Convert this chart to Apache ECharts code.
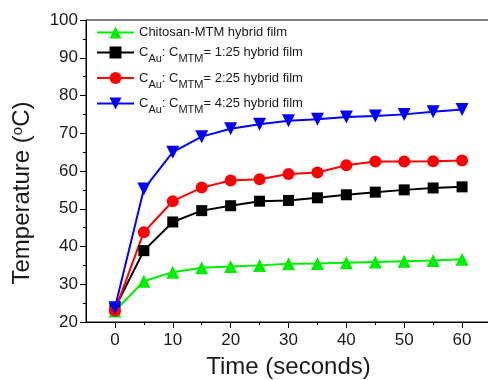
<!DOCTYPE html>
<html>
<head>
<meta charset="utf-8">
<script src="https://cdn.jsdelivr.net/npm/echarts@6/dist/echarts.min.js"></script>
<style>
  html, body { margin: 0; padding: 0; background: #fff; }
  #chart { width: 488px; height: 380px; }
</style>
</head>
<body>
<div id="chart"></div>
<script>
// 数据
var times = [0, 5, 10, 15, 20, 25, 30, 35, 40, 45, 50, 55, 60];
var chitosan = [22.9, 30.8, 33.2, 34.4, 34.7, 35.0, 35.4, 35.5, 35.7, 35.9, 36.1, 36.3, 36.6];
var ratio125 = [23.7, 38.9, 46.5, 49.5, 50.8, 52.0, 52.2, 52.9, 53.7, 54.4, 55.0, 55.5, 55.8];
var ratio225 = [23.0, 43.8, 52.0, 55.6, 57.5, 57.8, 59.2, 59.6, 61.5, 62.5, 62.5, 62.6, 62.8];
var ratio425 = [23.8, 55.2, 65.0, 69.1, 71.2, 72.4, 73.3, 73.7, 74.3, 74.6, 75.0, 75.7, 76.3];
var xMajorTicks = [0, 10, 20, 30, 40, 50, 60];
var xMinorTicks = [5, 15, 25, 35, 45, 55];

var names = [
    'Chitosan-MTM hybrid film',
    'r125',
    'r225',
    'r425'
];
var legendText = {
    'Chitosan-MTM hybrid film': '{p|Chitosan-MTM hybrid film}',
    'r125': '{n|C}{sub|Au}{n|: C}{sub|MTM}{n|= 1:25 hybrid film}',
    'r225': '{n|C}{sub|Au}{n|: C}{sub|MTM}{n|= 2:25 hybrid film}',
    'r425': '{n|C}{sub|Au}{n|: C}{sub|MTM}{n|= 4:25 hybrid film}'
};

function pairs(vals) {
    return times.map(function (t, i) { return [t, vals[i]]; });
}

var font = 'Liberation Sans';
var ink = '#1a1a1a';

var myChart = echarts.init(document.getElementById('chart'));

var option = {
    animation: false,
    backgroundColor: '#fff',
    textStyle: { fontFamily: font, color: ink },
    grid: {
        left: 86,
        top: 20,
        right: -3,
        bottom: 58,
        outerBoundsMode: 'none',
        containLabel: false,
        show: true,
        borderColor: '#000',
        borderWidth: 1
    },
    legend: {
        orient: 'vertical',
        left: 91,
        top: 21,
        itemWidth: 37,
        itemHeight: 15,
        itemGap: 7,
        data: names,
        formatter: function (name) { return legendText[name]; },
        textStyle: {
            color: ink,
            fontFamily: font,
            rich: {
                p: { fontSize: 13, lineHeight: 15, fontFamily: font, color: ink },
                n: { fontSize: 13, lineHeight: 24, fontFamily: font, color: ink },
                sub: { fontSize: 11, lineHeight: 11, verticalAlign: 'bottom', fontFamily: font, color: ink }
            }
        }
    },
    xAxis: [{
        type: 'value',
        min: -5,
        max: 65,
        name: 'Time (seconds)',
        nameLocation: 'middle',
        nameGap: 33,
        nameTextStyle: { fontSize: 24, color: ink, fontFamily: font },
        splitLine: { show: false },
        axisLine: { onZero: false, lineStyle: { color: '#000', width: 1 } },
        axisTick: { length: 6, customValues: xMajorTicks, lineStyle: { color: '#000' } },
        axisLabel: { customValues: xMajorTicks, fontSize: 17, margin: 10, color: ink }
    }, {
        type: 'value',
        min: -5,
        max: 65,
        position: 'bottom',
        splitLine: { show: false },
        axisLine: { show: false, onZero: false },
        axisTick: { length: 3, customValues: xMinorTicks, lineStyle: { color: '#000' } },
        axisLabel: { show: false }
    }],
    yAxis: {
        type: 'value',
        min: 20,
        max: 100,
        interval: 10,
        name: 'Temperature ({sup|o}C)',
        nameLocation: 'middle',
        nameGap: 52,
        nameTextStyle: {
            fontSize: 24,
            color: ink,
            fontFamily: font,
            padding: [0, 44, 0, 0],
            rich: {
                sup: { fontSize: 15, lineHeight: 15, verticalAlign: 'top', color: ink, fontFamily: font }
            }
        },
        splitLine: { show: false },
        axisLine: { show: true, onZero: false, lineStyle: { color: '#000', width: 1 } },
        axisTick: { show: true, length: 6, lineStyle: { color: '#000' } },
        minorTick: { show: true, splitNumber: 2, length: 3, lineStyle: { color: '#000' } },
        axisLabel: { fontSize: 17, margin: 8, color: ink }
    },
    series: [
        {
            name: names[0],
            type: 'line',
            data: pairs(chitosan),
            symbol: 'triangle',
            symbolSize: 13,
            lineStyle: { color: '#00ee00', width: 2 },
            itemStyle: { color: '#00ee00' }
        },
        {
            name: names[1],
            type: 'line',
            data: pairs(ratio125),
            symbol: 'rect',
            symbolSize: 11,
            lineStyle: { color: '#000', width: 2 },
            itemStyle: { color: '#000' }
        },
        {
            name: names[2],
            type: 'line',
            data: pairs(ratio225),
            symbol: 'circle',
            symbolSize: 12,
            lineStyle: { color: '#ff0000', width: 2 },
            itemStyle: { color: '#ff0000' }
        },
        {
            name: names[3],
            type: 'line',
            data: pairs(ratio425),
            symbol: 'triangle',
            symbolRotate: 180,
            symbolSize: 13,
            lineStyle: { color: '#0000ff', width: 2 },
            itemStyle: { color: '#0000ff' }
        }
    ]
};

myChart.setOption(option);
</script>
</body>
</html>
